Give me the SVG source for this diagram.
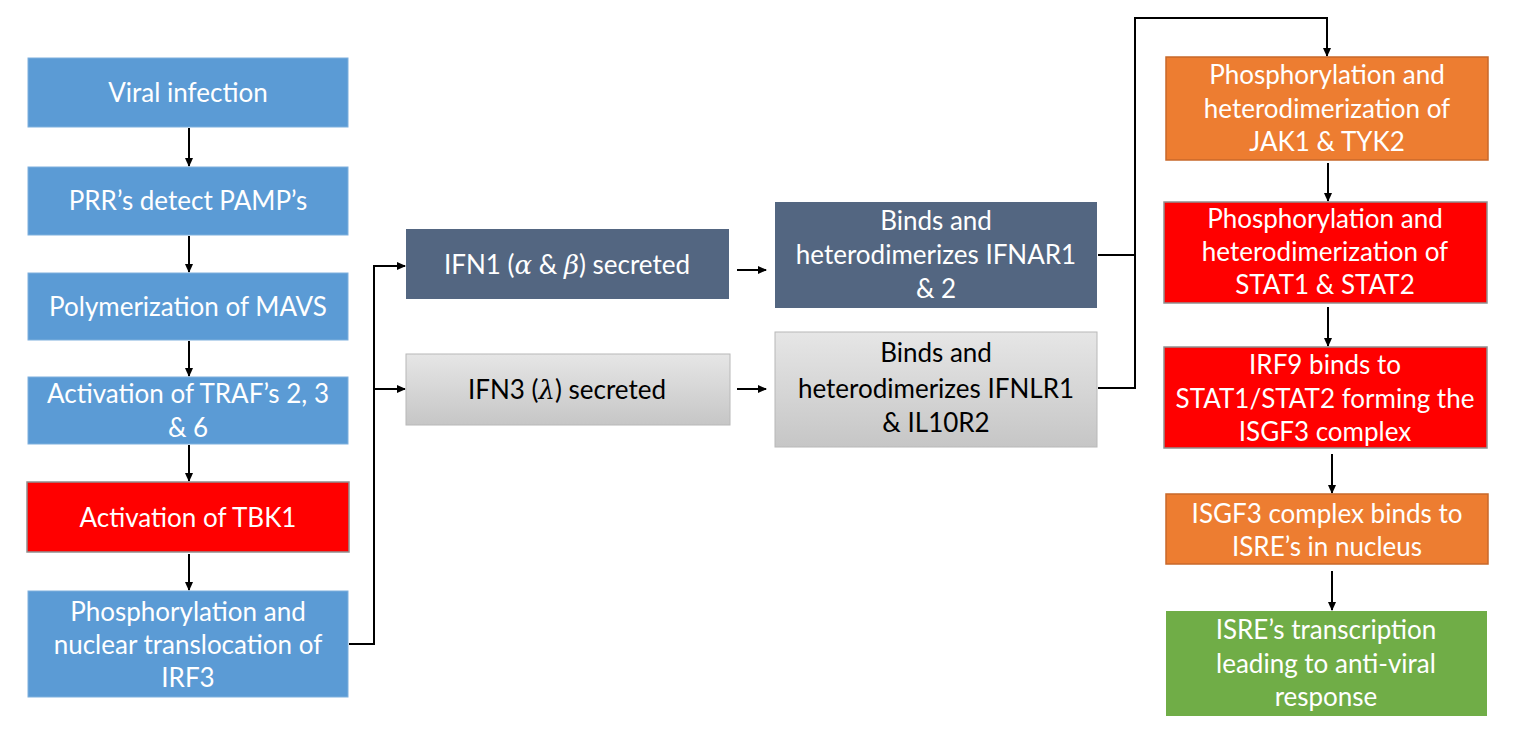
<svg xmlns="http://www.w3.org/2000/svg" width="1521" height="753" viewBox="0 0 1521 753">
<defs>
<marker id="ah" markerWidth="9" markerHeight="9" refX="8" refY="4.5" orient="auto" markerUnits="userSpaceOnUse">
<path d="M0,0.5 L9,4.5 L0,8.5 Z" fill="#000"/>
</marker>
<linearGradient id="gray" x1="0" y1="0" x2="0" y2="1">
<stop offset="0" stop-color="#e6e6e6"/>
<stop offset="1" stop-color="#c6c6c6"/>
</linearGradient>
<style>
text{font-family:Lato,"Open Sans","Liberation Sans",sans-serif;font-size:26px;text-anchor:middle;fill:#fff}
.dk{fill:#000}
.blue{fill:#5b9bd5;stroke:#7fb0dd;stroke-width:1}
.slate{fill:#536681}
.grayb{fill:url(#gray);stroke:#b8b8b8;stroke-width:1}
.red{fill:#ff0000;stroke:#909090;stroke-width:1.5}
.orange{fill:#ed7d31;stroke:#c8682a;stroke-width:1.5}
.green{fill:#70ad47}
.c{fill:none;stroke:#000;stroke-width:2}
.m{font-family:"DejaVu Serif","Liberation Serif",serif;font-style:italic}
</style>
</defs>

<g id="connectors">
<line class="c" x1="189" y1="128" x2="189" y2="166" marker-end="url(#ah)"/>
<line class="c" x1="189" y1="236" x2="189" y2="272" marker-end="url(#ah)"/>
<line class="c" x1="189" y1="341" x2="189" y2="376" marker-end="url(#ah)"/>
<line class="c" x1="189" y1="445" x2="189" y2="481" marker-end="url(#ah)"/>
<line class="c" x1="189" y1="554" x2="189" y2="590" marker-end="url(#ah)"/>
<polyline class="c" points="349,644 374,644 374,266 405,266" marker-end="url(#ah)"/>
<line class="c" x1="374" y1="389" x2="405" y2="389" marker-end="url(#ah)"/>
<line class="c" x1="737" y1="270" x2="766" y2="270" marker-end="url(#ah)"/>
<line class="c" x1="737" y1="389" x2="766" y2="389" marker-end="url(#ah)"/>
<polyline class="c" points="1098,255 1135,255"/>
<polyline class="c" points="1098,388 1135,388 1135,18 1327,18 1327,56" marker-end="url(#ah)"/>
<line class="c" x1="1328" y1="163" x2="1328" y2="201" marker-end="url(#ah)"/>
<line class="c" x1="1328" y1="307" x2="1328" y2="346" marker-end="url(#ah)"/>
<line class="c" x1="1332" y1="454" x2="1332" y2="493" marker-end="url(#ah)"/>
<line class="c" x1="1332" y1="571" x2="1332" y2="610" marker-end="url(#ah)"/>
</g>

<g id="viral">
<rect class="blue" x="28" y="58" width="320" height="69"/>
<text x="188" y="102">Viral infection</text>
</g>
<g id="prr">
<rect class="blue" x="28" y="167" width="320" height="68"/>
<text x="188" y="210">PRR’s detect PAMP’s</text>
</g>
<g id="mavs">
<rect class="blue" x="28" y="273" width="320" height="67"/>
<text x="188" y="316">Polymerization of MAVS</text>
</g>
<g id="traf">
<rect class="blue" x="28" y="377" width="320" height="67"/>
<text x="188" y="403">Activation of TRAF’s 2, 3</text>
<text x="188" y="437">&amp; 6</text>
</g>
<g id="tbk1">
<rect class="red" x="27" y="482" width="322" height="70"/>
<text x="188" y="527">Activation of TBK1</text>
</g>
<g id="irf3">
<rect class="blue" x="28" y="591" width="320" height="106"/>
<text x="188" y="621">Phosphorylation and</text>
<text x="188" y="654">nuclear translocation of</text>
<text x="188" y="687">IRF3</text>
</g>

<g id="ifn1">
<rect class="slate" x="406" y="229" width="323" height="70"/>
<text x="567" y="274">IFN1 (<tspan class="m">α</tspan> &amp; <tspan class="m">β</tspan>) secreted</text>
</g>
<g id="ifn3">
<rect class="grayb" x="406" y="354" width="324" height="71"/>
<text class="dk" x="567" y="399">IFN3 (<tspan class="m">λ</tspan>) secreted</text>
</g>
<g id="ifnar">
<rect class="slate" x="775" y="202" width="322" height="106"/>
<text x="936" y="230">Binds and</text>
<text x="936" y="264">heterodimerizes IFNAR1</text>
<text x="936" y="298">&amp; 2</text>
</g>
<g id="ifnlr">
<rect class="grayb" x="775" y="332" width="322" height="115"/>
<text class="dk" x="936" y="362">Binds and</text>
<text class="dk" x="936" y="398">heterodimerizes IFNLR1</text>
<text class="dk" x="936" y="432">&amp; IL10R2</text>
</g>

<g id="jak">
<rect class="orange" x="1166" y="57" width="322" height="103"/>
<text x="1327" y="84">Phosphorylation and</text>
<text x="1327" y="118">heterodimerization of</text>
<text x="1327" y="151">JAK1 &amp; TYK2</text>
</g>
<g id="stat">
<rect class="red" x="1164" y="202" width="323" height="101"/>
<text x="1325" y="228">Phosphorylation and</text>
<text x="1325" y="261">heterodimerization of</text>
<text x="1325" y="294">STAT1 &amp; STAT2</text>
</g>
<g id="irf9">
<rect class="red" x="1164" y="347" width="323" height="101"/>
<text x="1325" y="374">IRF9 binds to</text>
<text x="1325" y="408">STAT1/STAT2 forming the</text>
<text x="1325" y="441">ISGF3 complex</text>
</g>
<g id="isgf3">
<rect class="orange" x="1166" y="494" width="322" height="70"/>
<text x="1327" y="523">ISGF3 complex binds to</text>
<text x="1327" y="556">ISRE’s in nucleus</text>
</g>
<g id="isre">
<rect class="green" x="1166" y="611" width="321" height="105"/>
<text x="1326" y="639">ISRE’s transcription</text>
<text x="1326" y="673">leading to anti-viral</text>
<text x="1326" y="706">response</text>
</g>
</svg>
